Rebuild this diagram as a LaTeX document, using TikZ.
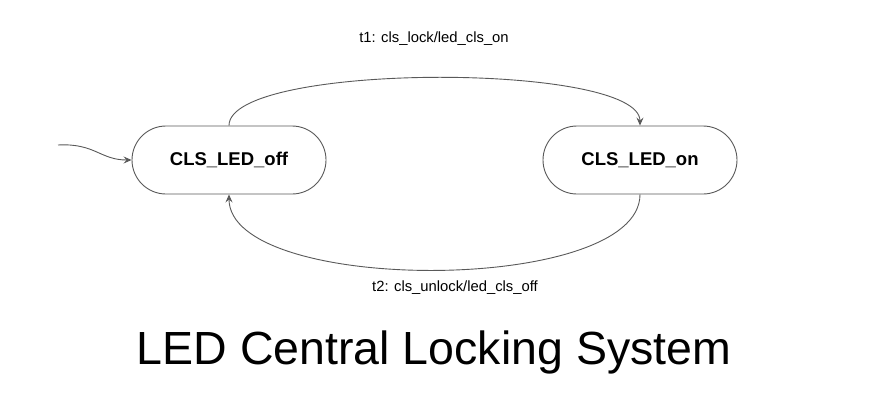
\documentclass[tikz,border=0pt]{standalone}
\usepackage{fontspec}
\setmainfont{Liberation Sans}
\usetikzlibrary{shapes.misc,arrows.meta}
\begin{document}
\begin{tikzpicture}[x=1pt,y=-1pt,
  state/.style={draw=black!65, line width=0.9pt, rounded rectangle, minimum width=194pt, minimum height=68pt, font=\fontsize{18.5}{20}\selectfont\bfseries, inner sep=0pt},
  trans/.style={draw=black!65, line width=0.9pt, -{Stealth[length=8pt,width=7pt,inset=3pt]}},
  lbl/.style={font=\fontsize{14.8}{17}\selectfont, inner sep=0pt}]
\useasboundingbox (0,0) rectangle (879,416);
\node[state] (off) at (229,160) {CLS\_LED\_off};
\node[state] (on) at (640,160) {CLS\_LED\_on};
\coordinate (init) at (58,145);
\draw[trans] (init) .. controls (95,143) and (100,160) .. (off.west);
\draw[trans] (off.north) .. controls (229,62) and (640,62) .. (on.north);
\draw[trans] (on.south) .. controls (640,295) and (229,295) .. (off.south);
\node[lbl] (l1) at (434,39) {t1: cls\_lock/led\_cls\_on};
\node[lbl] (l2) at (455,288) {t2: cls\_unlock/led\_cls\_off};
\node[font=\fontsize{46.5}{52}\selectfont, inner sep=0pt] (title) at (434,352) {LED Central Locking System};
\end{tikzpicture}
\end{document}
